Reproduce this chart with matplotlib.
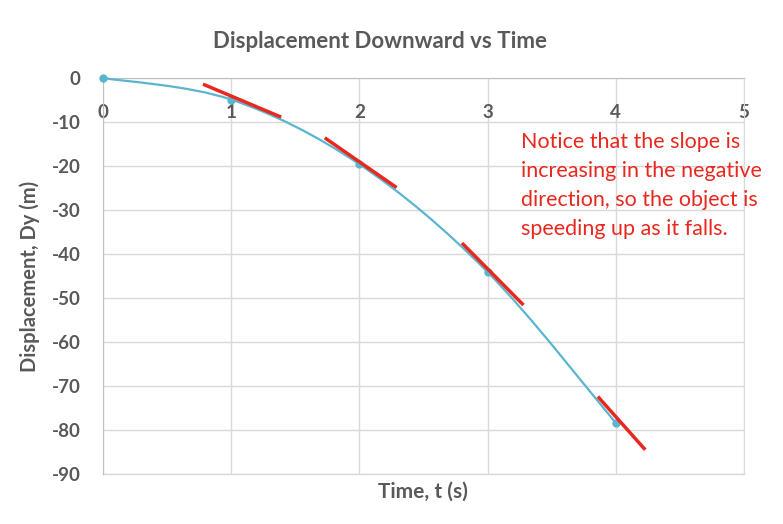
import numpy as np
import matplotlib.pyplot as plt
from matplotlib.path import Path
from matplotlib.patches import PathPatch

plt.rcParams['font.family'] = ['Lato', 'DejaVu Sans']
plt.rcParams['axes.unicode_minus'] = False

# data
time_s = [0, 1, 2, 3, 4]
disp_m = [0, -4.9, -19.6, -44.1, -78.4]

# tangent segments
tan_x = [(0.78, 1.39), (1.73, 2.29), (2.80, 3.28), (3.86, 4.23)]
tan_y = [(-1.4, -8.9), (-13.6, -24.9), (-37.5, -51.6), (-72.4, -84.5)]

x_ticks = [0, 1, 2, 3, 4, 5]
y_ticks = [0, -10, -20, -30, -40, -50, -60, -70, -80, -90]

NOTE = ("Notice that the slope is\nincreasing in the negative\n"
        "direction, so the object is\nspeeding up as it falls.")

GRAY = '#595959'
GRID = '#D9D9D9'
BLUE = '#5BB5CF'
RED = '#E8281E'


def smooth_path(xs, ys):
    """Excel-like smoothed line as cubic bezier segments (catmull-rom)."""
    pts = np.column_stack([xs, ys]).astype(float)
    n = len(pts)
    verts = [pts[0]]
    codes = [Path.MOVETO]
    for i in range(n - 1):
        p0 = pts[max(i - 1, 0)]
        p1 = pts[i]
        p2 = pts[i + 1]
        p3 = pts[min(i + 2, n - 1)]
        c1 = p1 + (p2 - p0) / 6
        c2 = p2 - (p3 - p1) / 6
        verts += [c1, c2, p2]
        codes += [Path.CURVE4] * 3
    return Path(verts, codes)


fig = plt.figure(figsize=(7.83, 5.24), dpi=100)
ax = fig.add_axes([103 / 783, 1 - 474 / 524, (744 - 103) / 783, (474 - 78) / 524])

ax.set_xlim(0, 5)
ax.set_ylim(-90, 0)
ax.set_xticks(x_ticks)
ax.set_yticks(y_ticks)
ax.grid(True, color=GRID, lw=1)
ax.set_axisbelow(True)

ax.spines['top'].set_visible(False)
ax.spines['right'].set_color(GRID)
ax.spines['bottom'].set_position(('data', 0))
ax.spines['bottom'].set_color('#BFBFBF')
ax.spines['left'].set_color('#BFBFBF')
ax.axhline(-90, color=GRID, lw=1, clip_on=False)

ax.tick_params(length=0, labelsize=13.5, labelcolor=GRAY)
ax.tick_params(axis='x', pad=19)
ax.tick_params(axis='y', pad=16)
for lab in ax.get_xticklabels() + ax.get_yticklabels():
    lab.set_fontweight('bold')

ax.add_patch(PathPatch(smooth_path(time_s, disp_m), fc='none', ec=BLUE, lw=1.6,
                       zorder=3, clip_on=False))
ax.plot(time_s, disp_m, 'o', color=BLUE, ms=5, zorder=4, clip_on=False)

for xs, ys in zip(tan_x, tan_y):
    ax.plot(xs, ys, color=RED, lw=2.5, solid_capstyle='butt', zorder=5)

ax.text(3.26, -12.3, NOTE, color=RED, fontsize=15.5, va='top', ha='left',
        linespacing=1.55, zorder=6)

fig.text(0.485, 1 - 41 / 524, 'Displacement Downward vs Time', ha='center', va='center',
         fontsize=16, fontweight='bold', color=GRAY)
fig.text(423 / 783, 1 - 492 / 524, 'Time, t (s)', ha='center', va='center',
         fontsize=15, fontweight='bold', color=GRAY)
fig.text(30 / 783, 1 - 276 / 524, 'Displacement, Dy (m)', ha='center', va='center',
         rotation=90, fontsize=14.5, fontweight='bold', color=GRAY)

fig.savefig('out.png', dpi=100)
